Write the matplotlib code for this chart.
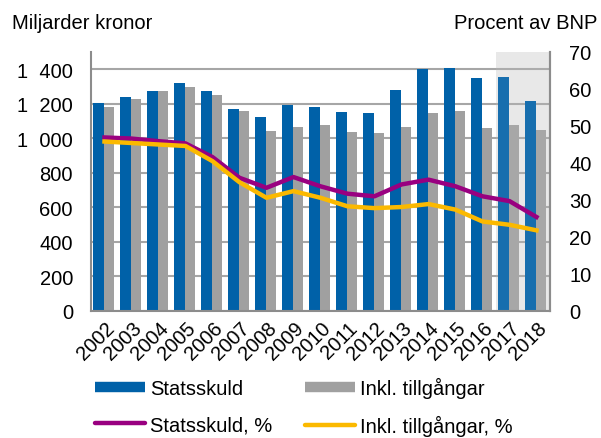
import matplotlib
matplotlib.use("Agg")
import matplotlib.pyplot as plt
import numpy as np
from matplotlib.lines import Line2D

plt.rcParams['font.family'] = ['Liberation Sans', 'DejaVu Sans']

years = [str(y) for y in range(2002, 2019)]
statsskuld = [1206, 1241, 1276, 1320, 1276, 1171, 1122, 1192, 1183, 1155, 1149, 1282, 1399, 1408, 1352, 1358, 1219]
inkl_tillg = [1182, 1225, 1272, 1295, 1250, 1157, 1040, 1068, 1078, 1038, 1033, 1064, 1145, 1157, 1060, 1078, 1046]
statsskuld_pct = [46.9, 46.6, 45.9, 45.3, 41.6, 36.0, 33.3, 36.2, 33.7, 31.7, 31.0, 34.2, 35.5, 33.7, 31.0, 29.7, 25.4]
inkl_tillg_pct = [45.8, 45.4, 45.0, 44.6, 40.5, 34.8, 30.6, 32.4, 30.6, 28.3, 27.8, 28.1, 28.9, 27.4, 24.2, 23.3, 21.8]
left_ticks = [0, 200, 400, 600, 800, 1000, 1200, 1400]
left_ticklabels = ["0", "200", "400", "600", "800", "1\u2007000", "1\u2007200", "1\u2007400"]
right_ticks = [0, 10, 20, 30, 40, 50, 60, 70]
forecast_years = ["2017", "2018"]

BLUE = "#0061a8"
GRAY = "#a0a0a0"
PURPLE = "#990080"
YELLOW = "#fbb900"
GRID = "#a6a6a6"
FS = 14.5

fig = plt.figure(figsize=(6.01, 4.39), dpi=100)
ax = fig.add_axes([0.1514, 0.2893, 0.9151 - 0.1514, 0.8793 - 0.2893])
x = np.arange(len(years))

i0 = years.index(forecast_years[0])
i1 = years.index(forecast_years[-1])
ax.axvspan(i0 - 0.5, i1 + 0.5, color="#e8e8e8", zorder=0, lw=0)
ax.axvspan(i0 - 0.5, i1 + 0.5, color="#e8e8e8", alpha=0.1, zorder=2.5, lw=0)

w = 0.4
ax.bar(x - w / 2 - 0.02, statsskuld, width=w, color=BLUE, zorder=2)
ax.bar(x + w / 2 - 0.02, inkl_tillg, width=w * 0.95, color=GRAY, zorder=2)

ax.set_xlim(-0.5, len(years) - 0.5)
ax.set_ylim(0, 1500)
ax.set_yticks(left_ticks)
ax.set_yticklabels(left_ticklabels, fontsize=FS)
ax.grid(axis="y", color=GRID, lw=1.5, zorder=1)
ax.set_axisbelow(True)
ax.set_xticks(x)
ax.set_xticklabels(years, rotation=45, ha="right", rotation_mode="anchor", fontsize=FS)
ax.tick_params(axis="both", length=0)
ax.tick_params(axis="y", pad=13)
ax.tick_params(axis="x", pad=5)
ax.spines["top"].set_visible(False)
for s in ["left", "bottom", "right"]:
    ax.spines[s].set_color("#8c8c8c")
    ax.spines[s].set_linewidth(1.5)

ax2 = ax.twinx()
ax2.plot(x, statsskuld_pct, color=PURPLE, lw=3.2, zorder=3)
ax2.plot(x, inkl_tillg_pct, color=YELLOW, lw=3.2, zorder=3)
ax2.set_ylim(0, 70)
ax2.set_yticks(right_ticks)
ax2.set_yticklabels([str(t) for t in right_ticks], fontsize=FS)
ax2.tick_params(axis="y", length=0, pad=14)
for s in ["top", "left", "bottom"]:
    ax2.spines[s].set_visible(False)
ax2.spines["right"].set_color("#8c8c8c")
ax2.spines["right"].set_linewidth(1.5)

fig.text(12 / 601, 1 - 29 / 439, "Miljarder kronor", fontsize=FS, va="baseline", ha="left")
fig.text(597 / 601, 1 - 29 / 439, "Procent av BNP", fontsize=FS, va="baseline", ha="right")

handles = [
    Line2D([0], [0], color=BLUE, lw=7.5, solid_capstyle="butt"),
    Line2D([0], [0], color=PURPLE, lw=3.2, solid_capstyle="round"),
    Line2D([0], [0], color=GRAY, lw=7.5, solid_capstyle="butt"),
    Line2D([0], [0], color=YELLOW, lw=3.2, solid_capstyle="round"),
]
labels = ["Statsskuld", "Statsskuld, %", "Inkl. tillgångar", "Inkl. tillgångar, %"]
fig.legend(handles, labels, loc="upper left", bbox_to_anchor=(95 / 601, 1 - 378 / 439),
           ncol=2, frameon=False, fontsize=FS, handlelength=2.5, handletextpad=0.25,
           columnspacing=1.6, labelspacing=0.85, borderpad=0, borderaxespad=0)

fig.savefig("out.png", dpi=100)
